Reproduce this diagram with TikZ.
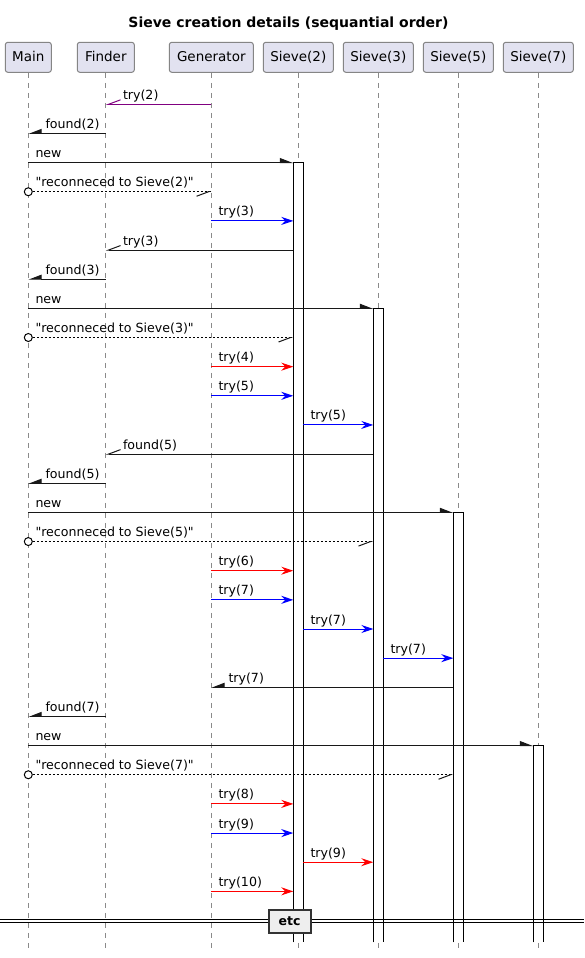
\documentclass[tikz,border=0pt]{standalone}
\usepackage{fontspec}
\setmainfont{DejaVu Sans}[Ligatures=TeXOff]
\usetikzlibrary{arrows.meta}
\definecolor{pumlpurple}{HTML}{800080}
\definecolor{pumlblue}{HTML}{0000FF}
\definecolor{pumlred}{HTML}{FF0000}
\definecolor{pumlline}{HTML}{181818}
\definecolor{partfill}{HTML}{E2E2F0}
\definecolor{partborder}{HTML}{858585}
\definecolor{lifegray}{HTML}{8A8A8A}
\definecolor{etcfill}{HTML}{EEEEEE}
\newcommand\msgR[5]{\draw[#1] (#2 |- r#4) -- (#3 |- r#4); \node[lbl,xshift=7pt] (t#4) at (#2 |- r#4) {#5};}
\newcommand\msgL[5]{\draw[#1] (#2 |- r#4) -- (#3 |- r#4); \node[lbl,xshift=17pt] (t#4) at (#3 |- r#4) {#5};}
\newcommand\retmsg[3]{% row, target, label
  \node[circ] (o#1) at (pMain |- r#1) {};
  \draw[retline] (o#1.east) -- (#2 |- r#1);
  \draw[msg=pumlline, openR] (#2 |- r#1) ++(-1.5,0) -- (#2 |- r#1);
  \node[lbl,xshift=7pt] (t#1) at (pMain |- r#1) {#3};}
\begin{document}
\begin{tikzpicture}[x=1pt,y=-1pt,
  part/.style={draw=partborder, fill=partfill, rounded corners=2.5pt, line width=1pt,
    minimum height=30pt, inner sep=0pt, text height=11pt, text depth=2pt,
    font=\fontsize{13.5}{16}\selectfont},
  lifeline/.style={draw=lifegray, line width=1pt, dash pattern=on 5pt off 5pt},
  actbox/.style={fill=white, draw=black, line width=1pt},
  msg/.style={line width=1pt, draw=#1},
  full/.style={-{Stealth[length=12pt,width=8pt,inset=4pt]}},
  halfR/.style={-{Triangle[harpoon,length=12pt,width=9pt]}},
  halfL/.style={-{Triangle[harpoon,swap,length=12pt,width=9pt]}},
  openL/.style={-{Straight Barb[harpoon,swap,length=12pt,width=9pt]}},
  openR/.style={-{Straight Barb[harpoon,swap,length=12pt,width=9pt]}},
  retline/.style={line width=1pt, draw=black, dash pattern=on 2pt off 2pt},
  circ/.style={circle, draw=black, fill=white, line width=1pt, minimum size=8pt, inner sep=0pt},
  lbl/.style={anchor=base west, yshift=5pt, inner sep=0pt, font=\fontsize{12.6}{15}\selectfont},
  etcbox/.style={draw=black!80, fill=etcfill, line width=2pt, minimum width=42pt,
    minimum height=23pt, inner sep=0pt, text height=9pt, text depth=0pt,
    font=\bfseries\fontsize{12.5}{15}\selectfont}
]
\useasboundingbox (0,0) rectangle (584,958);
\fill[white] (0,0) rectangle (584,958);

% title
\node[anchor=base, inner sep=0pt, font=\bfseries\fontsize{14}{17}\selectfont] (title) at (288.5,28) {Sieve creation details (sequantial order)};

% participants
\node[part, minimum width=46pt] (pMain) at (28.3,57.3) {Main};
\node[part, minimum width=57pt] (pFinder) at (105.8,57.3) {Finder};
\node[part, minimum width=84pt] (pGen) at (211.3,57.3) {Generator};
\node[part, minimum width=70pt] (pS2) at (298.3,57.3) {Sieve(2)};
\node[part, minimum width=70pt] (pS3) at (378.3,57.3) {Sieve(3)};
\node[part, minimum width=70pt] (pS5) at (458.3,57.3) {Sieve(5)};
\node[part, minimum width=70pt] (pS7) at (538.3,57.3) {Sieve(7)};

% rows
\foreach \k in {1,...,28} {
  \pgfmathsetmacro\yy{104.3+(\k-1)*29.15}
  \coordinate (r\k) at (0,\yy);
}
\coordinate (lifeEnd) at (0,948);
\coordinate (actEnd) at (0,942.3);

% lifelines
\foreach \p in {Main,Finder,Gen,S2,S3,S5,S7}
  \draw[lifeline] (p\p.south) -- (p\p.south |- lifeEnd);

% activation edges
\coordinate (aS2L) at (293.3,0); \coordinate (aS2R) at (303.3,0);
\coordinate (aS3L) at (373.3,0); \coordinate (aS3R) at (383.3,0);
\coordinate (aS5L) at (453.3,0); \coordinate (aS5R) at (463.3,0);
\coordinate (aS7L) at (533.3,0); \coordinate (aS7R) at (543.3,0);

\path[actbox] (aS2L |- actEnd) -- (aS2L |- r3) -- (aS2R |- r3) -- (aS2R |- actEnd);
\path[actbox] (aS3L |- actEnd) -- (aS3L |- r8) -- (aS3R |- r8) -- (aS3R |- actEnd);
\path[actbox] (aS5L |- actEnd) -- (aS5L |- r15) -- (aS5R |- r15) -- (aS5R |- actEnd);
\path[actbox] (aS7L |- actEnd) -- (aS7L |- r23) -- (aS7R |- r23) -- (aS7R |- actEnd);

% messages
\msgL{msg=pumlpurple, openL}{pGen}{pFinder}{1}{try(2)}
\msgL{msg=pumlline, halfL}{pFinder}{pMain}{2}{found(2)}
\msgR{msg=pumlline, halfR}{pMain}{aS2L}{3}{new}
\retmsg{4}{pGen}{"reconneced to Sieve(2)"}
\msgR{msg=pumlblue, full}{pGen}{aS2L}{5}{try(3)}
\msgL{msg=pumlline, openL}{aS2L}{pFinder}{6}{try(3)}
\msgL{msg=pumlline, halfL}{pFinder}{pMain}{7}{found(3)}
\msgR{msg=pumlline, halfR}{pMain}{aS3L}{8}{new}
\retmsg{9}{aS2L}{"reconneced to Sieve(3)"}
\msgR{msg=pumlred, full}{pGen}{aS2L}{10}{try(4)}
\msgR{msg=pumlblue, full}{pGen}{aS2L}{11}{try(5)}
\msgR{msg=pumlblue, full}{aS2R}{aS3L}{12}{try(5)}
\msgL{msg=pumlline, openL}{aS3L}{pFinder}{13}{found(5)}
\msgL{msg=pumlline, halfL}{pFinder}{pMain}{14}{found(5)}
\msgR{msg=pumlline, halfR}{pMain}{aS5L}{15}{new}
\retmsg{16}{aS3L}{"reconneced to Sieve(5)"}
\msgR{msg=pumlred, full}{pGen}{aS2L}{17}{try(6)}
\msgR{msg=pumlblue, full}{pGen}{aS2L}{18}{try(7)}
\msgR{msg=pumlblue, full}{aS2R}{aS3L}{19}{try(7)}
\msgR{msg=pumlblue, full}{aS3R}{aS5L}{20}{try(7)}
\msgL{msg=pumlline, halfL}{aS5L}{pGen}{21}{try(7)}
\msgL{msg=pumlline, halfL}{pFinder}{pMain}{22}{found(7)}
\msgR{msg=pumlline, halfR}{pMain}{aS7L}{23}{new}
\retmsg{24}{aS5L}{"reconneced to Sieve(7)"}
\msgR{msg=pumlred, full}{pGen}{aS2L}{25}{try(8)}
\msgR{msg=pumlblue, full}{pGen}{aS2L}{26}{try(9)}
\msgR{msg=pumlred, full}{aS2R}{aS3L}{27}{try(9)}
\msgR{msg=pumlred, full}{pGen}{aS2L}{28}{try(10)}

% divider
\draw[line width=1pt, draw=black] (0,919.2) -- (584,919.2);
\draw[line width=1pt, draw=black] (0,922.2) -- (584,922.2);
\node[etcbox] (etc) at (289.5,921) {etc};
\end{tikzpicture}
\end{document}
